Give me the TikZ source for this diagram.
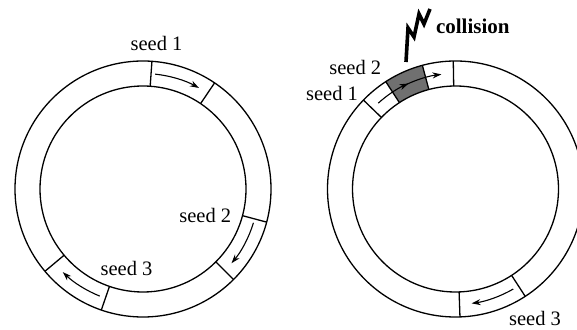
\documentclass[tikz,border=0pt]{standalone}
\usepackage{fontspec}
\setmainfont{Liberation Serif}
\usetikzlibrary{arrows.meta}
\definecolor{collgray}{RGB}{112,112,112}
\begin{document}
\begin{tikzpicture}[x=1pt,y=1pt,
  ring/.style={line width=1.3pt},
  sep/.style={line width=1.3pt},
  mv/.style={line width=1.1pt,-{Stealth[length=9pt,width=6pt]}},
  lbl/.style={anchor=base,inner sep=0pt,font=\fontsize{20.5}{24}\selectfont},
  clbl/.style={anchor=base,inner sep=0pt,font=\fontsize{21}{24}\selectfont\bfseries}]
\useasboundingbox (0,0) rectangle (577,329);
\coordinate (cL) at (143,140);
\coordinate (cR) at (455.5,140);
% gray collision region
\fill[collgray] ([shift={(123:103)}]cR) arc[start angle=123,end angle=105,radius=103]
  -- ([shift={(105:128)}]cR) arc[start angle=105,end angle=123,radius=128] -- cycle;
% rings
\draw[ring] (cL) circle[radius=128];
\draw[ring] (cL) circle[radius=103];
\draw[ring] (cR) circle[radius=128];
\draw[ring] (cR) circle[radius=103];
% left separators
\foreach \a in {86,56,-15,-45,251,220}
  \draw[sep] ([shift={(\a:103)}]cL) -- ([shift={(\a:128)}]cL);
% right separators
\foreach \a in {136,123,105,91,-57,-88}
  \draw[sep] ([shift={(\a:103)}]cR) -- ([shift={(\a:128)}]cR);
% left arrows
\draw[mv] ([shift={(84:115.5)}]cL) arc[start angle=84,end angle=61,radius=115.5];
\draw[mv] ([shift={(-17:115.5)}]cL) arc[start angle=-17,end angle=-40,radius=115.5];
\draw[mv] ([shift={(248:115.5)}]cL) arc[start angle=248,end angle=226,radius=115.5];
% right arrows
\draw[mv] ([shift={(132:115.5)}]cR) arc[start angle=132,end angle=114,radius=115.5];
\draw[mv] ([shift={(115:115.5)}]cR) arc[start angle=115,end angle=97,radius=115.5];
\draw[mv] ([shift={(-60:115.5)}]cR) arc[start angle=-60,end angle=-82,radius=115.5];
% labels
\node[lbl] (l1) at (156.5,278) {seed 1};
\node[lbl] (l2) at (205.3,106.7) {seed 2};
\node[lbl] (l3) at (126.5,54) {seed 3};
\node[lbl] (r2) at (355.3,254.5) {seed 2};
\node[lbl] (r1) at (332,228.3) {seed 1};
\node[lbl] (r3) at (535,3.5) {seed 3};
\node[clbl] (col) at (472.8,295) {collision};
% lightning
\draw[line width=3.6pt,line join=miter,miter limit=6]
  (406,267) -- (408,301) -- (414,292) -- (419,315) -- (424,305) -- (430,320);
\end{tikzpicture}
\end{document}
